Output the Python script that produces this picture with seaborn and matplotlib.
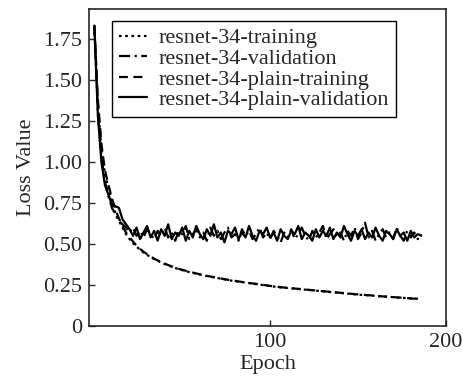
import numpy as np
import pandas as pd
import matplotlib
matplotlib.use('Agg')
import matplotlib.pyplot as plt
import seaborn as sns

# epochs sampled every 2
epocas = list(range(0, 188, 2))

treino = [1.83, 1.35, 1.08, 0.93, 0.84, 0.76, 0.69, 0.64, 0.60, 0.56,
          0.53, 0.505, 0.485, 0.465, 0.448, 0.434, 0.42, 0.408, 0.398, 0.388,
          0.378, 0.369, 0.361, 0.354, 0.347, 0.341, 0.335, 0.329, 0.324, 0.319,
          0.314, 0.309, 0.305, 0.301, 0.297, 0.293, 0.289, 0.285, 0.281, 0.277,
          0.274, 0.271, 0.268, 0.265, 0.262, 0.259, 0.256, 0.253, 0.25, 0.247,
          0.244, 0.241, 0.238, 0.236, 0.234, 0.232, 0.23, 0.228, 0.226, 0.224,
          0.222, 0.22, 0.218, 0.216, 0.214, 0.212, 0.21, 0.208, 0.206, 0.204,
          0.202, 0.2, 0.198, 0.196, 0.194, 0.192, 0.19, 0.189, 0.188, 0.186,
          0.184, 0.182, 0.18, 0.179, 0.178, 0.176, 0.174, 0.173, 0.172, 0.17,
          0.168, 0.166, 0.168, 0.175]

treino_plain = [1.82, 1.38, 1.11, 0.95, 0.86, 0.78, 0.71, 0.655, 0.61, 0.57,
                0.54, 0.515, 0.49, 0.47, 0.453, 0.438, 0.424, 0.411, 0.4, 0.39,
                0.381, 0.372, 0.364, 0.356, 0.349, 0.343, 0.337, 0.331, 0.326, 0.321,
                0.316, 0.311, 0.306, 0.302, 0.298, 0.294, 0.29, 0.286, 0.282, 0.279,
                0.276, 0.272, 0.269, 0.266, 0.263, 0.26, 0.257, 0.254, 0.251, 0.248,
                0.245, 0.242, 0.24, 0.237, 0.235, 0.233, 0.231, 0.229, 0.227, 0.225,
                0.223, 0.221, 0.219, 0.217, 0.215, 0.213, 0.211, 0.209, 0.207, 0.205,
                0.203, 0.201, 0.199, 0.197, 0.195, 0.193, 0.191, 0.19, 0.188, 0.187,
                0.185, 0.183, 0.181, 0.18, 0.178, 0.177, 0.175, 0.174, 0.172, 0.171,
                0.169, 0.167, 0.17, 0.178]

validacao = [1.83, 1.30, 1.03, 0.88, 0.79, 0.72, 0.68, 0.64, 0.62, 0.60,
             0.57, 0.60, 0.55, 0.58, 0.54, 0.59, 0.56, 0.53, 0.58, 0.55,
             0.60, 0.54, 0.57, 0.52, 0.58, 0.56, 0.61, 0.53, 0.56, 0.59,
             0.54, 0.57, 0.52, 0.60, 0.55, 0.58, 0.53, 0.57, 0.60, 0.54,
             0.56, 0.52, 0.59, 0.55, 0.58, 0.53, 0.56, 0.60, 0.54, 0.57,
             0.53, 0.58, 0.55, 0.51, 0.57, 0.54, 0.59, 0.53, 0.56, 0.60,
             0.55, 0.52, 0.58, 0.54, 0.57, 0.61, 0.53, 0.56, 0.59, 0.54,
             0.57, 0.52, 0.58, 0.55, 0.60, 0.53, 0.57, 0.63, 0.54, 0.58,
             0.52, 0.56, 0.59, 0.54, 0.57, 0.53, 0.60, 0.55, 0.52, 0.58,
             0.54, 0.57, 0.53, 0.56]

validacao_plain = [1.83, 1.28, 1.00, 0.86, 0.80, 0.74, 0.73, 0.72, 0.65, 0.62,
                   0.59, 0.55, 0.60, 0.53, 0.57, 0.61, 0.54, 0.58, 0.52, 0.59,
                   0.55, 0.62, 0.53, 0.57, 0.55, 0.60, 0.52, 0.58, 0.54, 0.61,
                   0.56, 0.53, 0.59, 0.55, 0.62, 0.54, 0.57, 0.51, 0.58, 0.56,
                   0.60, 0.53, 0.57, 0.54, 0.61, 0.55, 0.52, 0.58, 0.56, 0.60,
                   0.54, 0.57, 0.52, 0.59, 0.55, 0.53, 0.58, 0.56, 0.61, 0.53,
                   0.57, 0.55, 0.52, 0.59, 0.54, 0.58, 0.55, 0.60, 0.53, 0.57,
                   0.54, 0.61, 0.56, 0.52, 0.58, 0.55, 0.59, 0.53, 0.57, 0.54,
                   0.60, 0.55, 0.52, 0.58, 0.56, 0.53, 0.59, 0.55, 0.57, 0.52,
                   0.58, 0.54, 0.56, 0.55]

rotulos = ['resnet-34-training', 'resnet-34-validation',
           'resnet-34-plain-training', 'resnet-34-plain-validation']

sns.set_style('ticks')
plt.rcParams['font.family'] = ['Liberation Serif', 'DejaVu Serif']

fig = plt.figure(figsize=(4.64, 3.81), dpi=100)
ax = fig.add_axes([0.192, 0.144, 0.769, 0.832])

estilos = [(0, (1.2, 1.6)), (0, (5, 2, 1, 2)), (0, (4, 2.5)), '-']
series = [treino, validacao, treino_plain, validacao_plain]
for valores, rotulo, estilo in zip(series, rotulos, estilos):
    sns.lineplot(x=epocas, y=valores, ax=ax, color='black', linestyle=estilo,
                 linewidth=1.6, label=rotulo)

ax.set_xlim(-3, 200)
ax.set_ylim(0, 1.93)
ax.set_xticks([100, 200])
ax.set_yticks([0, 0.25, 0.5, 0.75, 1.0, 1.25, 1.5, 1.75])
ax.set_yticklabels(['0', '0.25', '0.50', '0.75', '1.00', '1.25', '1.50', '1.75'])
ax.tick_params(direction='in', length=4, labelsize=16, width=1, pad=5)
for s in ax.spines.values():
    s.set_linewidth(1.2)
ax.set_xlabel('Epoch', fontsize=16, labelpad=2)
ax.set_ylabel('Loss Value', fontsize=16, labelpad=5)

leg = ax.legend(loc='upper left', bbox_to_anchor=(0.064, 0.962), fontsize=16,
                frameon=True, fancybox=False, edgecolor='black', framealpha=1,
                handlelength=1.3, handletextpad=0.5, labelspacing=0.0,
                borderpad=0.3, borderaxespad=0)
leg.get_frame().set_linewidth(1.0)

fig.savefig('out.png', dpi=100)
